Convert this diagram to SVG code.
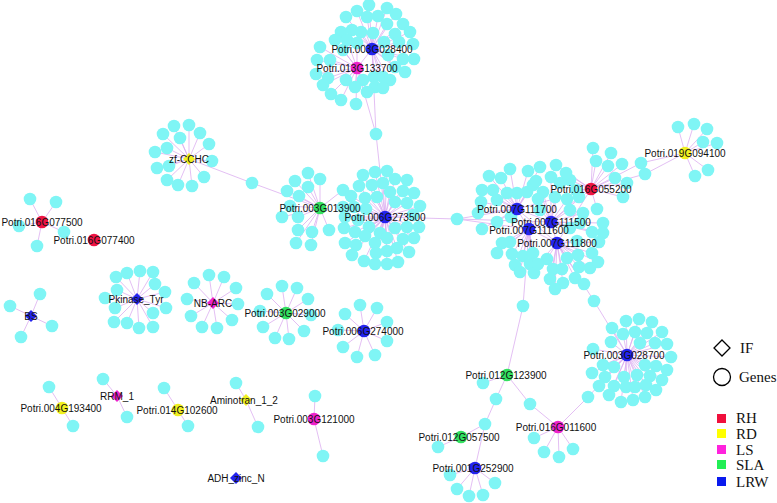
<svg xmlns="http://www.w3.org/2000/svg" xmlns:xlink="http://www.w3.org/1999/xlink" width="777" height="503" viewBox="0 0 777 503">
<style>
.e{stroke:#dcaef0;stroke-width:0.8;fill:none}
.c{fill:#7ff5f5}
.hb{fill:#2424ee}.hr{fill:#ee1444}.hp{fill:#ee22cc}.hg{fill:#33e060}.hy{fill:#f0f020}
.t{font-family:"Liberation Sans",Arial,sans-serif;font-size:10px;fill:#111;text-anchor:middle}
.lg{font-family:"Liberation Serif","Times New Roman",serif;font-size:15px;fill:#111}
</style>
<defs><circle id="n" r="6.3" class="c"/></defs>
<rect width="777" height="503" fill="#fff"/>
<g id="connectors" class="e">
<path d="M372 49L369 5M372 49L357 11M372 49L387 8M372 49L346 17M372 49L367 17M372 49L378 16M372 49L396 14M372 49L352 30M372 49L361 32M372 49L387 24M372 49L403 24M372 49L341 32M372 49L373 33M372 49L395 34M372 49L410 32M372 49L384 42M372 49L399 42M372 49L413 44M372 49L403 59M372 49L414 59M372 49L388 55M372 49L405 72M372 49L374 77M372 49L383 77M372 49L390 80M372 49L375 87M372 49L383 88M372 49L395 67M372 49L376 134M372 49L357 68"/>
<path d="M357 68L335 40M357 68L347 40M357 68L357 43M357 68L320 47M357 68L343 50M357 68L317 60M357 68L316 74M357 68L328 78M357 68L346 80M357 68L363 80M357 68L323 85M357 68L355 87M357 68L367 92M357 68L331 94M357 68L341 100M357 68L356 104M357 68L330 60M357 68L376 134M376 134L385 217"/>
<path d="M189 159L174 126M189 159L189 125M189 159L163 134M189 159L200 133M189 159L180 138M189 159L209 144M189 159L167 148M189 159L155 152M189 159L212 161M189 159L157 168M189 159L169 166M189 159L204 177M189 159L167 180M189 159L178 185M189 159L192 186M189 159L252 183L320 208"/>
<path d="M320 208L308 173M320 208L320 179M320 208L295 181M320 208L308 187M320 208L287 191M320 208L299 196M320 208L343 190M320 208L290 206M320 208L282 217M320 208L298 217M320 208L329 230M320 208L298 230M320 208L312 232M320 208L296 243M320 208L311 245"/>
<path d="M385 217L363 175M385 217L375 172M385 217L387 171M385 217L395 179M385 217L407 180M385 217L359 186M385 217L372 185M385 217L383 183M385 217L390 192M385 217L403 191M385 217L414 193M385 217L351 196M385 217L365 198M385 217L377 197M385 217L395 202M385 217L407 203M385 217L420 206M385 217L343 207M385 217L354 207M385 217L366 209M385 217L413 215M385 217L345 217M385 217L358 220M385 217L369 227M385 217L395 228M385 217L407 227M385 217L419 227M385 217L344 228M385 217L355 232M385 217L380 233M385 217L414 238M385 217L345 243M385 217L356 245M385 217L365 236M385 217L375 243M385 217L387 238M385 217L397 248M385 217L403 239M385 217L352 255M385 217L364 261M385 217L376 253M385 217L387 251M385 217L409 252M385 217L375 264M385 217L387 264M385 217L398 262M385 217L457 219"/>
<path d="M457 219L517 209M457 219L529 229M457 219L551 222M517 209L510 169M517 209L528 171M517 209L489 176M517 209L501 178M517 209L482 190M517 209L493 190M517 209L507 193M517 209L517 193M517 209L481 202M517 209L497 200M517 209L478 213M517 209L497 222M517 209L511 217M517 209L482 229M517 209L527 192M517 209L533 185M517 209L540 167M517 209L551 222M517 209L591 189"/>
<path d="M551 222L536 181M551 222L551 177M551 222L560 183M551 222L543 192M551 222L538 199M551 222L555 197M551 222L567 199M551 222L579 197M551 222L540 210M551 222L570 210M551 222L583 213M551 222L580 223M551 222L603 223M551 222L570 228M551 222L592 232M551 222L603 233M551 222L557 243M551 222L591 189M551 222L529 229"/>
<path d="M529 229L502 243M529 229L510 242M529 229L497 253M529 229L512 254M529 229L523 256M529 229L533 253M529 229L515 265M529 229L530 264M529 229L520 272M529 229L534 273M529 229L523 306M529 229L557 243M529 229L517 209"/>
<path d="M557 243L547 259M557 243L567 258M557 243L578 255M557 243L592 253M557 243L577 241M557 243L599 242M557 243L538 264M557 243L553 269M557 243L562 269M557 243L579 267M557 243L590 268M557 243L598 262M557 243L550 279M557 243L563 283M557 243L575 278M557 243L584 284M557 243L555 289M557 243L594 301M557 243L517 209"/>
<path d="M591 189L593 148M591 189L611 153M591 189L596 161M591 189L608 166M591 189L622 164M591 189L615 178M591 189L627 183M591 189L623 197M591 189L597 209M591 189L576 190M591 189L570 180M591 189L566 173M591 189L556 165M591 189L641 163M591 189L645 174M591 189L557 243"/>
<path d="M685 153L678 127M685 153L694 124M685 153L707 129M685 153L703 142M685 153L717 143M685 153L708 170M685 153L695 176M685 153L641 163M685 153L645 174"/>
<path d="M594 301L627 355M627 355L612 328M627 355L626 321M627 355L639 319M627 355L652 322M627 355L623 334M627 355L635 332M627 355L647 333M627 355L662 332M627 355L611 342M627 355L640 343M627 355L655 343M627 355L667 344M627 355L593 349M627 355L671 357M627 355L603 365M627 355L614 367M627 355L645 365M627 355L656 366M627 355L667 370M627 355L592 373M627 355L605 377M627 355L624 377M627 355L637 375M627 355L650 376M627 355L662 380M627 355L599 386M627 355L614 386M627 355L626 387M627 355L635 387M627 355L646 385M627 355L656 390M627 355L609 395M627 355L621 402M627 355L633 400M627 355L645 397M627 355L588 397"/>
<path d="M523 306L507 375M507 375L483 383M507 375L496 399L485 424L461 437M461 437L438 447M485 424L475 468M475 468L450 475M475 468L457 489M475 468L469 496M475 468L483 495M475 468L495 483M507 375L530 404"/>
<path d="M558 427L530 404M558 427L534 438M558 427L544 452M558 427L559 457M558 427L573 449M558 427L588 397"/>
<path d="M42 222L30 199M42 222L56 202M42 222L19 226M42 222L64 232M42 222L37 246M31 316L40 294M31 316L10 306M31 316L52 326M31 316L21 337"/>
<path d="M137 299L116 277M137 299L127 273M137 299L140 271M137 299L153 272M137 299L155 284M137 299L165 292M137 299L166 308M137 299L153 313M137 299L153 327M137 299L139 328M137 299L127 323M137 299L114 322M137 299L115 308M137 299L105 298M137 299L117 290"/>
<path d="M213 303L194 283M213 303L209 275M213 303L224 277M213 303L236 288M213 303L238 304M213 303L232 320M213 303L217 328M213 303L202 327M213 303L191 316M213 303L187 299"/>
<path d="M286 313L267 294M286 313L282 286M286 313L297 288M286 313L308 299M286 313L311 315M286 313L304 331M286 313L289 339M286 313L275 338M286 313L263 327M286 313L260 311"/>
<path d="M364 331L345 314M364 331L360 305M364 331L377 308M364 331L387 322M364 331L387 341M364 331L375 355M364 331L357 357M364 331L343 347M364 331L338 330"/>
<path d="M62 408L49 387M62 408L73 426M117 396L103 379M117 396L127 417M178 410L164 388M178 410L188 426M246 400L236 383M246 400L258 427M314 419L315 396M314 419L323 456"/>
</g>
<g id="cyan-nodes">
<use href="#n" x="369" y="5"/><use href="#n" x="357" y="11"/><use href="#n" x="387" y="8"/><use href="#n" x="346" y="17"/><use href="#n" x="367" y="17"/><use href="#n" x="378" y="16"/><use href="#n" x="396" y="14"/><use href="#n" x="352" y="30"/><use href="#n" x="361" y="32"/><use href="#n" x="387" y="24"/><use href="#n" x="403" y="24"/><use href="#n" x="341" y="32"/><use href="#n" x="373" y="33"/><use href="#n" x="395" y="34"/><use href="#n" x="410" y="32"/><use href="#n" x="384" y="42"/><use href="#n" x="399" y="42"/><use href="#n" x="413" y="44"/><use href="#n" x="403" y="59"/><use href="#n" x="414" y="59"/><use href="#n" x="388" y="55"/><use href="#n" x="405" y="72"/><use href="#n" x="374" y="77"/><use href="#n" x="383" y="77"/><use href="#n" x="390" y="80"/><use href="#n" x="375" y="87"/><use href="#n" x="383" y="88"/><use href="#n" x="395" y="67"/><use href="#n" x="376" y="134"/>
<use href="#n" x="335" y="40"/><use href="#n" x="347" y="40"/><use href="#n" x="357" y="43"/><use href="#n" x="320" y="47"/><use href="#n" x="343" y="50"/><use href="#n" x="317" y="60"/><use href="#n" x="316" y="74"/><use href="#n" x="328" y="78"/><use href="#n" x="346" y="80"/><use href="#n" x="363" y="80"/><use href="#n" x="323" y="85"/><use href="#n" x="355" y="87"/><use href="#n" x="367" y="92"/><use href="#n" x="331" y="94"/><use href="#n" x="341" y="100"/><use href="#n" x="356" y="104"/><use href="#n" x="330" y="60"/>
<use href="#n" x="174" y="126"/><use href="#n" x="189" y="125"/><use href="#n" x="163" y="134"/><use href="#n" x="200" y="133"/><use href="#n" x="180" y="138"/><use href="#n" x="209" y="144"/><use href="#n" x="167" y="148"/><use href="#n" x="155" y="152"/><use href="#n" x="212" y="161"/><use href="#n" x="157" y="168"/><use href="#n" x="169" y="166"/><use href="#n" x="204" y="177"/><use href="#n" x="167" y="180"/><use href="#n" x="178" y="185"/><use href="#n" x="192" y="186"/><use href="#n" x="252" y="183"/>
<use href="#n" x="308" y="173"/><use href="#n" x="320" y="179"/><use href="#n" x="295" y="181"/><use href="#n" x="308" y="187"/><use href="#n" x="287" y="191"/><use href="#n" x="299" y="196"/><use href="#n" x="343" y="190"/><use href="#n" x="290" y="206"/><use href="#n" x="282" y="217"/><use href="#n" x="298" y="217"/><use href="#n" x="329" y="230"/><use href="#n" x="298" y="230"/><use href="#n" x="312" y="232"/><use href="#n" x="296" y="243"/><use href="#n" x="311" y="245"/>
<use href="#n" x="363" y="175"/><use href="#n" x="375" y="172"/><use href="#n" x="387" y="171"/><use href="#n" x="395" y="179"/><use href="#n" x="407" y="180"/><use href="#n" x="359" y="186"/><use href="#n" x="372" y="185"/><use href="#n" x="383" y="183"/><use href="#n" x="390" y="192"/><use href="#n" x="403" y="191"/><use href="#n" x="414" y="193"/><use href="#n" x="351" y="196"/><use href="#n" x="365" y="198"/><use href="#n" x="377" y="197"/><use href="#n" x="395" y="202"/><use href="#n" x="407" y="203"/><use href="#n" x="420" y="206"/><use href="#n" x="343" y="207"/><use href="#n" x="354" y="207"/><use href="#n" x="366" y="209"/><use href="#n" x="413" y="215"/><use href="#n" x="345" y="217"/><use href="#n" x="358" y="220"/><use href="#n" x="369" y="227"/><use href="#n" x="395" y="228"/><use href="#n" x="407" y="227"/><use href="#n" x="419" y="227"/><use href="#n" x="344" y="228"/><use href="#n" x="355" y="232"/><use href="#n" x="380" y="233"/><use href="#n" x="414" y="238"/><use href="#n" x="345" y="243"/><use href="#n" x="356" y="245"/><use href="#n" x="365" y="236"/><use href="#n" x="375" y="243"/><use href="#n" x="387" y="238"/><use href="#n" x="397" y="248"/><use href="#n" x="403" y="239"/><use href="#n" x="352" y="255"/><use href="#n" x="364" y="261"/><use href="#n" x="376" y="253"/><use href="#n" x="387" y="251"/><use href="#n" x="409" y="252"/><use href="#n" x="375" y="264"/><use href="#n" x="387" y="264"/><use href="#n" x="398" y="262"/><use href="#n" x="457" y="219"/>
<use href="#n" x="510" y="169"/><use href="#n" x="528" y="171"/><use href="#n" x="489" y="176"/><use href="#n" x="501" y="178"/><use href="#n" x="482" y="190"/><use href="#n" x="493" y="190"/><use href="#n" x="507" y="193"/><use href="#n" x="517" y="193"/><use href="#n" x="481" y="202"/><use href="#n" x="497" y="200"/><use href="#n" x="478" y="213"/><use href="#n" x="497" y="222"/><use href="#n" x="511" y="217"/><use href="#n" x="482" y="229"/><use href="#n" x="527" y="192"/><use href="#n" x="533" y="185"/><use href="#n" x="540" y="167"/>
<use href="#n" x="536" y="181"/><use href="#n" x="551" y="177"/><use href="#n" x="560" y="183"/><use href="#n" x="543" y="192"/><use href="#n" x="538" y="199"/><use href="#n" x="555" y="197"/><use href="#n" x="567" y="199"/><use href="#n" x="579" y="197"/><use href="#n" x="540" y="210"/><use href="#n" x="570" y="210"/><use href="#n" x="583" y="213"/><use href="#n" x="580" y="223"/><use href="#n" x="603" y="223"/><use href="#n" x="570" y="228"/><use href="#n" x="592" y="232"/><use href="#n" x="603" y="233"/>
<use href="#n" x="502" y="243"/><use href="#n" x="510" y="242"/><use href="#n" x="497" y="253"/><use href="#n" x="512" y="254"/><use href="#n" x="523" y="256"/><use href="#n" x="533" y="253"/><use href="#n" x="515" y="265"/><use href="#n" x="530" y="264"/><use href="#n" x="520" y="272"/><use href="#n" x="534" y="273"/><use href="#n" x="523" y="306"/>
<use href="#n" x="547" y="259"/><use href="#n" x="567" y="258"/><use href="#n" x="578" y="255"/><use href="#n" x="592" y="253"/><use href="#n" x="577" y="241"/><use href="#n" x="599" y="242"/><use href="#n" x="538" y="264"/><use href="#n" x="553" y="269"/><use href="#n" x="562" y="269"/><use href="#n" x="579" y="267"/><use href="#n" x="590" y="268"/><use href="#n" x="598" y="262"/><use href="#n" x="550" y="279"/><use href="#n" x="563" y="283"/><use href="#n" x="575" y="278"/><use href="#n" x="584" y="284"/><use href="#n" x="555" y="289"/><use href="#n" x="594" y="301"/>
<use href="#n" x="593" y="148"/><use href="#n" x="611" y="153"/><use href="#n" x="596" y="161"/><use href="#n" x="608" y="166"/><use href="#n" x="622" y="164"/><use href="#n" x="615" y="178"/><use href="#n" x="627" y="183"/><use href="#n" x="623" y="197"/><use href="#n" x="597" y="209"/><use href="#n" x="576" y="190"/><use href="#n" x="570" y="180"/><use href="#n" x="566" y="173"/><use href="#n" x="556" y="165"/><use href="#n" x="641" y="163"/><use href="#n" x="645" y="174"/>
<use href="#n" x="678" y="127"/><use href="#n" x="694" y="124"/><use href="#n" x="707" y="129"/><use href="#n" x="703" y="142"/><use href="#n" x="717" y="143"/><use href="#n" x="708" y="170"/><use href="#n" x="695" y="176"/>
<use href="#n" x="612" y="328"/><use href="#n" x="626" y="321"/><use href="#n" x="639" y="319"/><use href="#n" x="652" y="322"/><use href="#n" x="623" y="334"/><use href="#n" x="635" y="332"/><use href="#n" x="647" y="333"/><use href="#n" x="662" y="332"/><use href="#n" x="611" y="342"/><use href="#n" x="640" y="343"/><use href="#n" x="655" y="343"/><use href="#n" x="667" y="344"/><use href="#n" x="593" y="349"/><use href="#n" x="671" y="357"/><use href="#n" x="603" y="365"/><use href="#n" x="614" y="367"/><use href="#n" x="645" y="365"/><use href="#n" x="656" y="366"/><use href="#n" x="667" y="370"/><use href="#n" x="592" y="373"/><use href="#n" x="605" y="377"/><use href="#n" x="624" y="377"/><use href="#n" x="637" y="375"/><use href="#n" x="650" y="376"/><use href="#n" x="662" y="380"/><use href="#n" x="599" y="386"/><use href="#n" x="614" y="386"/><use href="#n" x="626" y="387"/><use href="#n" x="635" y="387"/><use href="#n" x="646" y="385"/><use href="#n" x="656" y="390"/><use href="#n" x="609" y="395"/><use href="#n" x="621" y="402"/><use href="#n" x="633" y="400"/><use href="#n" x="645" y="397"/><use href="#n" x="588" y="397"/>
<use href="#n" x="483" y="383"/><use href="#n" x="496" y="399"/><use href="#n" x="485" y="424"/><use href="#n" x="438" y="447"/><use href="#n" x="450" y="475"/><use href="#n" x="457" y="489"/><use href="#n" x="469" y="496"/><use href="#n" x="483" y="495"/><use href="#n" x="495" y="483"/>
<use href="#n" x="530" y="404"/><use href="#n" x="534" y="438"/><use href="#n" x="544" y="452"/><use href="#n" x="559" y="457"/><use href="#n" x="573" y="449"/>
<use href="#n" x="30" y="199"/><use href="#n" x="56" y="202"/><use href="#n" x="19" y="226"/><use href="#n" x="64" y="232"/><use href="#n" x="37" y="246"/>
<use href="#n" x="40" y="294"/><use href="#n" x="10" y="306"/><use href="#n" x="52" y="326"/><use href="#n" x="21" y="337"/>
<use href="#n" x="116" y="277"/><use href="#n" x="127" y="273"/><use href="#n" x="140" y="271"/><use href="#n" x="153" y="272"/><use href="#n" x="155" y="284"/><use href="#n" x="165" y="292"/><use href="#n" x="166" y="308"/><use href="#n" x="153" y="313"/><use href="#n" x="153" y="327"/><use href="#n" x="139" y="328"/><use href="#n" x="127" y="323"/><use href="#n" x="114" y="322"/><use href="#n" x="115" y="308"/><use href="#n" x="105" y="298"/><use href="#n" x="117" y="290"/>
<use href="#n" x="194" y="283"/><use href="#n" x="209" y="275"/><use href="#n" x="224" y="277"/><use href="#n" x="236" y="288"/><use href="#n" x="238" y="304"/><use href="#n" x="232" y="320"/><use href="#n" x="217" y="328"/><use href="#n" x="202" y="327"/><use href="#n" x="191" y="316"/><use href="#n" x="187" y="299"/>
<use href="#n" x="267" y="294"/><use href="#n" x="282" y="286"/><use href="#n" x="297" y="288"/><use href="#n" x="308" y="299"/><use href="#n" x="311" y="315"/><use href="#n" x="304" y="331"/><use href="#n" x="289" y="339"/><use href="#n" x="275" y="338"/><use href="#n" x="263" y="327"/><use href="#n" x="260" y="311"/>
<use href="#n" x="345" y="314"/><use href="#n" x="360" y="305"/><use href="#n" x="377" y="308"/><use href="#n" x="387" y="322"/><use href="#n" x="387" y="341"/><use href="#n" x="375" y="355"/><use href="#n" x="357" y="357"/><use href="#n" x="343" y="347"/><use href="#n" x="338" y="330"/>
<use href="#n" x="49" y="387"/><use href="#n" x="73" y="426"/><use href="#n" x="103" y="379"/><use href="#n" x="127" y="417"/><use href="#n" x="164" y="388"/><use href="#n" x="188" y="426"/><use href="#n" x="236" y="383"/><use href="#n" x="258" y="427"/><use href="#n" x="315" y="396"/><use href="#n" x="323" y="456"/>
</g>
<g id="Potri.003G028400"><circle cx="372" cy="49" r="6.3" class="hb"/><text class="t" x="372" y="53">Potri.003G028400</text></g>
<g id="Potri.013G133700"><circle cx="357" cy="68" r="6.3" class="hp"/><text class="t" x="357" y="72">Potri.013G133700</text></g>
<g id="zf-CCHC"><polygon points="189,153 195,159 189,165 183,159" class="hy"/><text class="t" x="189" y="163">zf-CCHC</text></g>
<g id="Potri.003G013900"><circle cx="320" cy="208" r="6.3" class="hg"/><text class="t" x="320" y="212">Potri.003G013900</text></g>
<g id="Potri.006G273500"><circle cx="385" cy="217" r="6.3" class="hb"/><text class="t" x="385" y="221">Potri.006G273500</text></g>
<g id="Potri.007G111700"><circle cx="517" cy="209" r="6.3" class="hb"/><text class="t" x="517" y="213">Potri.007G111700</text></g>
<g id="Potri.007G111500"><circle cx="551" cy="222" r="6.3" class="hb"/><text class="t" x="551" y="226">Potri.007G111500</text></g>
<g id="Potri.007G111600"><circle cx="529" cy="229" r="6.3" class="hb"/><text class="t" x="529" y="234">Potri.007G111600</text></g>
<g id="Potri.007G111800"><circle cx="557" cy="243" r="6.3" class="hb"/><text class="t" x="557" y="247">Potri.007G111800</text></g>
<g id="Potri.016G055200"><circle cx="591" cy="189" r="6.3" class="hr"/><text class="t" x="591" y="193">Potri.016G055200</text></g>
<g id="Potri.019G094100"><circle cx="685" cy="153" r="6.3" class="hy"/><text class="t" x="685" y="157">Potri.019G094100</text></g>
<g id="Potri.016G077500"><circle cx="42" cy="222" r="6.3" class="hr"/><text class="t" x="42" y="226">Potri.016G077500</text></g>
<g id="Potri.016G077400"><circle cx="94" cy="240" r="6.3" class="hr"/><text class="t" x="94" y="244">Potri.016G077400</text></g>
<g id="BS"><polygon points="31,310 37,316 31,322 25,316" class="hb"/><text class="t" x="31" y="320">BS</text></g>
<g id="Pkinase_Tyr"><polygon points="137,293 143,299 137,305 131,299" class="hb"/><text class="t" x="136" y="303">Pkinase_Tyr</text></g>
<g id="NB-ARC"><polygon points="213,297 219,303 213,309 207,303" class="hp"/><text class="t" x="213" y="307">NB-ARC</text></g>
<g id="Potri.003G029000"><circle cx="286" cy="313" r="6.3" class="hg"/><text class="t" x="285" y="317">Potri.003G029000</text></g>
<g id="Potri.006G274000"><circle cx="364" cy="331" r="6.3" class="hb"/><text class="t" x="363" y="335">Potri.006G274000</text></g>
<g id="Potri.004G193400"><circle cx="62" cy="408" r="6.3" class="hy"/><text class="t" x="61" y="412">Potri.004G193400</text></g>
<g id="RRM_1"><polygon points="117,390 123,396 117,402 111,396" class="hp"/><text class="t" x="117" y="400">RRM_1</text></g>
<g id="Potri.014G102600"><circle cx="178" cy="410" r="6.3" class="hy"/><text class="t" x="177" y="414">Potri.014G102600</text></g>
<g id="Aminotran_1_2"><polygon points="246,394 252,400 246,406 240,400" class="hy"/><text class="t" x="244" y="404">Aminotran_1_2</text></g>
<g id="Potri.003G121000"><circle cx="314" cy="419" r="6.3" class="hp"/><text class="t" x="314" y="423">Potri.003G121000</text></g>
<g id="ADH_zinc_N"><polygon points="236,472 242,478 236,484 230,478" class="hb"/><text class="t" x="236" y="482">ADH_zinc_N</text></g>
<g id="Potri.003G028700"><circle cx="627" cy="355" r="6.3" class="hb"/><text class="t" x="624" y="359">Potri.003G028700</text></g>
<g id="Potri.012G123900"><circle cx="507" cy="375" r="6.3" class="hg"/><text class="t" x="506" y="379">Potri.012G123900</text></g>
<g id="Potri.012G057500"><circle cx="461" cy="437" r="6.3" class="hg"/><text class="t" x="459" y="441">Potri.012G057500</text></g>
<g id="Potri.001G252900"><circle cx="475" cy="468" r="6.3" class="hb"/><text class="t" x="473" y="472">Potri.001G252900</text></g>
<g id="Potri.016G011600"><circle cx="558" cy="427" r="6.3" class="hp"/><text class="t" x="556" y="431">Potri.016G011600</text></g>
<g id="legend">
<polygon points="722,340 730,348 722,356 714,348" fill="#fff" stroke="#000" stroke-width="1.3"/>
<text class="lg" x="740" y="353">IF</text>
<circle cx="722" cy="377" r="8.5" fill="#fff" stroke="#000" stroke-width="1.3"/>
<text class="lg" x="739" y="382">Genes</text>
<rect x="717" y="414" width="9" height="9" fill="#f0103c"/><text class="lg" x="736" y="423">RH</text>
<rect x="717" y="429" width="9" height="9" fill="#ffff00"/><text class="lg" x="736" y="439">RD</text>
<rect x="717" y="445" width="9" height="9" fill="#ff22dd"/><text class="lg" x="736" y="455">LS</text>
<rect x="717" y="460" width="9" height="9" fill="#22ee55"/><text class="lg" x="736" y="470">SLA</text>
<rect x="717" y="477" width="9" height="9" fill="#0a1aee"/><text class="lg" x="736" y="487">LRW</text>
</g>
</svg>
